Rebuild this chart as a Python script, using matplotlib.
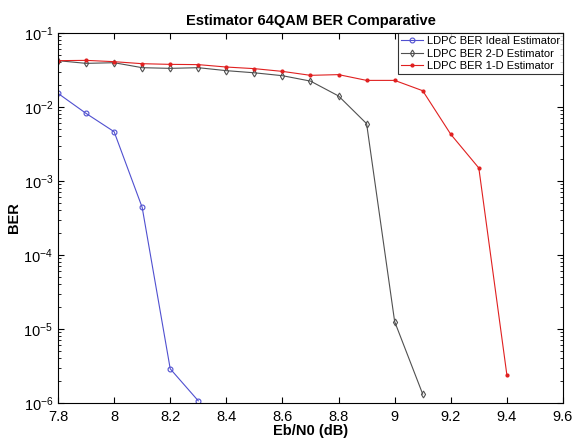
import matplotlib
matplotlib.use("Agg")
import matplotlib.pyplot as plt
import numpy as np

plt.rcParams['font.family'] = ['Liberation Sans', 'DejaVu Sans']

# Eb/N0 (dB) and BER values
ebn0_ideal = [7.8, 7.9, 8.0, 8.1, 8.2, 8.3]
ber_ideal = [0.0153, 0.0082, 0.00464, 4.4e-4, 2.9e-6, 1.07e-6]

ebn0_2d = [7.8, 7.9, 8.0, 8.1, 8.2, 8.3, 8.4, 8.5, 8.6, 8.7, 8.8, 8.9, 9.0, 9.1]
ber_2d = [0.0423, 0.0389, 0.0397, 0.034, 0.0333, 0.034, 0.031, 0.029,
          0.0265, 0.0224, 0.0141, 0.00596, 1.26e-5, 1.32e-6]

ebn0_1d = [7.8, 7.9, 8.0, 8.1, 8.2, 8.3, 8.4, 8.5, 8.6, 8.7, 8.8, 8.9,
           9.0, 9.1, 9.2, 9.3, 9.4]
ber_1d = [0.0423, 0.0427, 0.041, 0.0385, 0.0377, 0.0374, 0.0347, 0.033,
          0.0303, 0.0268, 0.0274, 0.0229, 0.0229, 0.0166, 0.00428, 0.0015, 2.4e-6]

xticks = [7.8, 8.0, 8.2, 8.4, 8.6, 8.8, 9.0, 9.2, 9.4, 9.6]
xticklabels = ['7.8', '8', '8.2', '8.4', '8.6', '8.8', '9', '9.2', '9.4', '9.6']

fig = plt.figure(figsize=(5.76, 4.48), dpi=100)
ax = fig.add_axes([0.1007, 0.1004, 0.8767, 0.8259])

ax.semilogy(ebn0_ideal, ber_ideal, color='#5050d0', lw=0.8, marker='o',
            ms=3.5, mfc='none', mew=0.8, label='LDPC BER Ideal Estimator')
ax.semilogy(ebn0_2d, ber_2d, color='#505050', lw=0.8, marker='d',
            ms=3.5, mfc='none', mew=0.8, label='LDPC BER 2-D Estimator')
ax.semilogy(ebn0_1d, ber_1d, color='#e02020', lw=0.8, marker='.',
            ms=4, label='LDPC BER 1-D Estimator')

ax.set_xlim(7.8, 9.6)
ax.set_ylim(1e-6, 1e-1)
ax.set_xticks(xticks)
ax.set_xticklabels(xticklabels)
ax.tick_params(which='both', direction='in', top=True, right=True, labelsize=10.5)
ax.tick_params(which='major', length=4)
ax.tick_params(which='minor', length=2)
ax.tick_params(axis='x', pad=5)

ax.set_title('Estimator 64QAM BER Comparative', fontsize=10.5, fontweight='bold', pad=6)
ax.set_xlabel('Eb/N0 (dB)', fontsize=10.5, fontweight='bold', labelpad=0)
ax.set_ylabel('BER', fontsize=10.5, fontweight='bold', labelpad=2)

leg = ax.legend(loc='upper right', fontsize=8, frameon=True, fancybox=False,
                borderpad=0.3, labelspacing=0.2, handlelength=2.0,
                handletextpad=0.3, borderaxespad=0.0)
leg.get_frame().set_edgecolor('black')
leg.get_frame().set_linewidth(0.8)

fig.savefig('out.png', dpi=100)
